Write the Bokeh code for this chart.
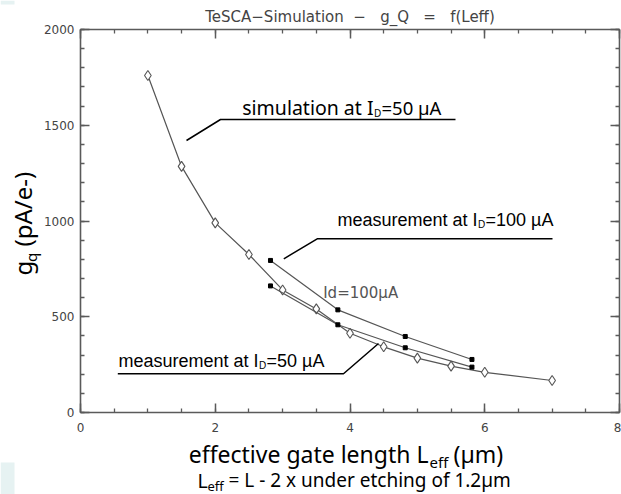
import math
from bokeh.plotting import figure
from bokeh.models import Range1d, FixedTicker, LinearAxis, Label, BoxAnnotation
from bokeh.embed import file_html
from bokeh.resources import INLINE

# ---------------- data ----------------
sim_x = [1.0, 1.5, 2.0, 2.5, 3.0, 3.5, 4.0, 4.5, 5.0, 5.5, 6.0, 7.0]
sim_y = [1760, 1285, 990, 825, 640, 541, 414, 343, 284, 242, 210, 167]

meas_x = [2.82, 3.82, 4.82, 5.81]
meas100_y = [794, 536, 397, 277]
meas50_y = [661, 458, 338, 237]

x_major = [0, 2, 4, 6, 8]
x_minor = [i * 0.5 for i in range(17)]
y_major = [0, 500, 1000, 1500, 2000]
y_minor = [i * 100 for i in range(21)]

# ---------------- geometry helpers (canvas pixels -> data) ----------------
W, H = 621, 494
FL, FR, FT, FB = 80.0, 619.0, 29.0, 412.0   # visible plot box on the canvas
XMAX, YMAX = 8.0, 2000.0


def px(x):
    return (x - FL) * XMAX / (FR - FL)


def py(y):
    return (FB - y) * YMAX / (FB - FT)


AX = "#5a5a5a"
LINE = "#555555"

p = figure(frame_width=W, frame_height=H,
           min_border_left=0, min_border_right=0, min_border_top=0,
           min_border_bottom=0,
           x_range=Range1d(px(0), px(W)), y_range=Range1d(py(H), py(0)),
           x_axis_location=None, y_axis_location=None,
           output_backend="svg", toolbar_location=None)
p.title.visible = False
p.grid.visible = False
p.outline_line_color = None
p.background_fill_color = "white"
p.border_fill_color = "white"

# slide background remnants at the left edge
p.add_layout(BoxAnnotation(left=px(0), right=px(14), bottom=py(494), top=py(462),
                           fill_color="#e6f2f2", fill_alpha=1, line_color=None))
p.add_layout(BoxAnnotation(left=px(0), right=px(14), bottom=py(4), top=py(0),
                           fill_color="#e6f2f2", fill_alpha=1, line_color=None))


def style(ax, show_labels):
    ax.axis_line_color = AX
    ax.axis_line_width = 1.6
    ax.major_tick_line_color = AX
    ax.major_tick_line_width = 1.5
    ax.minor_tick_line_color = AX
    ax.minor_tick_line_width = 1.3
    ax.major_tick_in = 9
    ax.major_tick_out = 0
    ax.minor_tick_in = 4
    ax.minor_tick_out = 0
    if show_labels:
        ax.major_label_text_font = "DejaVu Sans"
        ax.major_label_text_font_size = "12px"
        ax.major_label_text_color = "#444444"
    else:
        ax.major_label_text_color = None


left = LinearAxis(ticker=FixedTicker(ticks=y_major, minor_ticks=y_minor),
                  fixed_location=0, bounds=(0, YMAX))
style(left, True)
left.major_label_standoff = 6
right = LinearAxis(ticker=FixedTicker(ticks=y_major, minor_ticks=y_minor),
                   fixed_location=XMAX, bounds=(0, YMAX))
style(right, False)
bottom = LinearAxis(ticker=FixedTicker(ticks=x_major, minor_ticks=x_minor),
                    fixed_location=0, bounds=(0, XMAX))
style(bottom, True)
bottom.major_label_standoff = 10
top = LinearAxis(ticker=FixedTicker(ticks=x_major, minor_ticks=x_minor),
                 fixed_location=YMAX, bounds=(0, XMAX))
style(top, False)
p.add_layout(left, "left")
p.add_layout(right, "right")
p.add_layout(bottom, "below")
p.add_layout(top, "above")

# ---------------- series ----------------
p.line(sim_x, sim_y, line_color=LINE, line_width=1.2)
p.scatter(sim_x, sim_y, marker="diamond", size=10, line_color=LINE,
          fill_color="white", line_width=1.1)
p.line(meas_x, meas100_y, line_color=LINE, line_width=1.2)
p.scatter(meas_x, meas100_y, marker="square", size=4, line_color="black",
          fill_color="black")
p.line(meas_x, meas50_y, line_color=LINE, line_width=1.2)
p.scatter(meas_x, meas50_y, marker="square", size=4, line_color="black",
          fill_color="black")

# ---------------- text helpers ----------------
SANS = "Noto Sans"
ARIAL = "Liberation Sans"
DEJA = "DejaVu Sans"
# empirical shift between the requested and the drawn baseline (in em)
SHIFT = {SANS: 0.33, ARIAL: 0.28, DEJA: 0.27}


def lab(text, x, y, font, size, color="black", align="left", angle=0.0):
    d = SHIFT[font] * size
    if angle:
        x -= d
    else:
        y -= d
    p.add_layout(Label(x=px(x), y=py(y), text=text, text_font=font,
                       text_font_size=f"{size}px", text_color=color,
                       text_align=align, text_baseline="alphabetic",
                       angle=angle))


def seg(points):
    p.line([px(a) for a, b in points], [py(b) for a, b in points],
           line_color="black", line_width=1.5)


NB = "\u00a0"
# title (non-breaking spaces keep the wide gaps of the original)
lab("TeSCA\u2212Simulation" + NB * 2 + "\u2212" + NB * 3 + "g_Q" + NB * 3
    + "=" + NB * 3 + "f(Leff)", 349.5, 21, DEJA, 15, color="#444444",
    align="center")

# annotation: simulation at I_D=50 µA
lab("simulation at I", 373, 113, SANS, 19.5, align="right")
lab("D", 373.5, 116, SANS, 10)
lab("=50 \u00b5A", 381, 113, SANS, 18.5)
seg([(186, 140), (220, 119), (455, 119)])

# annotation: measurement at I_D=100 µA
lab("measurement at I", 477, 225, ARIAL, 18, align="right")
lab("D", 477.5, 227, ARIAL, 10)
lab("=100 \u00b5A", 485, 225, ARIAL, 18)
seg([(283.3, 258.3), (316.7, 238.3), (552, 238.3)])

# annotation: measurement at I_D=50 µA
lab("measurement at I", 258, 366, ARIAL, 18, align="right")
lab("D", 258.5, 368, ARIAL, 10)
lab("=50 \u00b5A", 266, 366, ARIAL, 18)
seg([(117.3, 373.3), (343, 373.3), (378, 343)])

# curve label
lab("Id=100\u00b5A", 322.7, 297, DEJA, 15, color="#555555")

# x axis title (two lines)
lab("effective gate length L", 428, 461, SANS, 23, align="right")
lab("eff", 429, 466, SANS, 15)
lab("(\u00b5m)", 453, 461, SANS, 23)
lab("L", 197, 486, SANS, 19.5)
lab("eff", 207, 490, SANS, 13)
lab("= L - 2 x under etching of 1.2\u00b5m", 228, 486, SANS, 19)

# y axis title (rotated)
ROT = math.pi / 2
lab("g", 30, 275, SANS, 24, angle=ROT)
lab("q", 35, 261.5, SANS, 15, angle=ROT)
lab("(pA/e-)", 30, 246, SANS, 24, angle=ROT)

open("out.html", "w").write(file_html(p, INLINE))
